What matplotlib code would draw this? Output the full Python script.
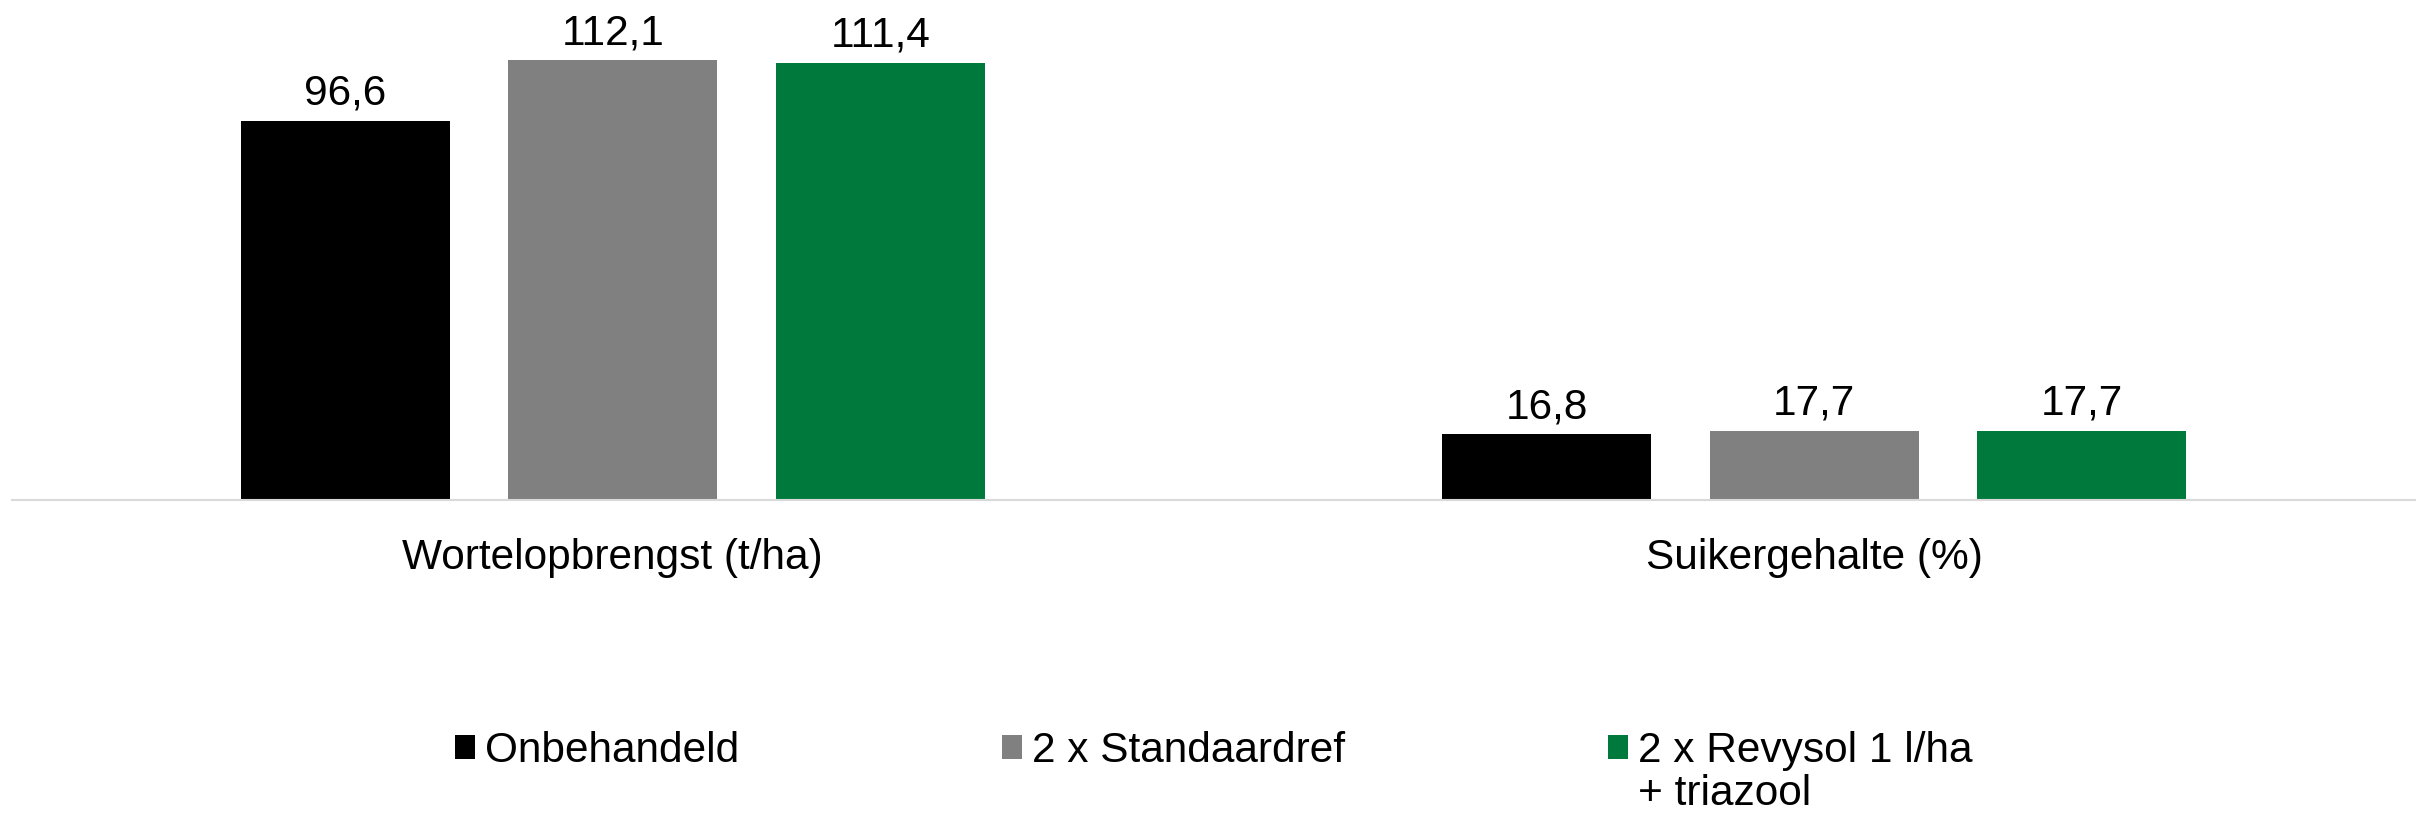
import numpy as np
import matplotlib as mpl
mpl.use('Agg')
import matplotlib.pyplot as plt

plt.rcParams['font.family'] = ['Liberation Sans', 'DejaVu Sans']

categories = ['Wortelopbrengst (t/ha)', 'Suikergehalte (%)']
series = ['Onbehandeld', '2 x Standaardref', '2 x Revysol 1 l/ha']
series_extra = '+ triazool'   # second line of last legend entry
values = [
    [96.6, 16.8],
    [112.1, 17.7],
    [111.4, 17.7],
]
labels = [
    ['96,6', '16,8'],
    ['112,1', '17,7'],
    ['111,4', '17,7'],
]
colors = ['#000000', '#808080', '#00793C']

fs = 30.5
fig = plt.figure(figsize=(24.27, 8.15), dpi=100)
ax = fig.add_axes([12/2427, 1 - 500/815, 2403/2427, 471/815])

ind = np.arange(len(categories))
width = 0.174
step = 0.2226
for i, (name, vals) in enumerate(zip(series, values)):
    bars = ax.bar(ind + (i - 1) * step, vals, width, color=colors[i], label=name)
    ax.bar_label(bars, labels=labels[i], padding=5, fontsize=fs)

ax.set_xlim(-0.5, 1.5)
ax.set_ylim(0, 120)
ax.set_xticks(ind)
ax.set_xticklabels(categories, fontsize=fs)
ax.tick_params(axis='x', length=0, pad=27)
ax.set_yticks([])
for s in ['top', 'left', 'right']:
    ax.spines[s].set_visible(False)
ax.spines['bottom'].set_color('#D9D9D9')
ax.spines['bottom'].set_linewidth(1.5)

leg = fig.legend(loc='center', bbox_to_anchor=(0.5, 1 - 751/815), ncol=3,
                 frameon=False, fontsize=fs, handlelength=0.47, handleheight=0.47,
                 handletextpad=0.24, columnspacing=6.2, borderpad=0, borderaxespad=0)

# second line of the last legend entry, left aligned under the first line
fig.canvas.draw()
ext = leg.get_texts()[-1].get_window_extent()
fig.text(ext.x0 / fig.bbox.width, (ext.y0 - 43) / fig.bbox.height, series_extra,
         fontsize=fs, ha='left', va='bottom')

fig.savefig('out.png', dpi=100)
